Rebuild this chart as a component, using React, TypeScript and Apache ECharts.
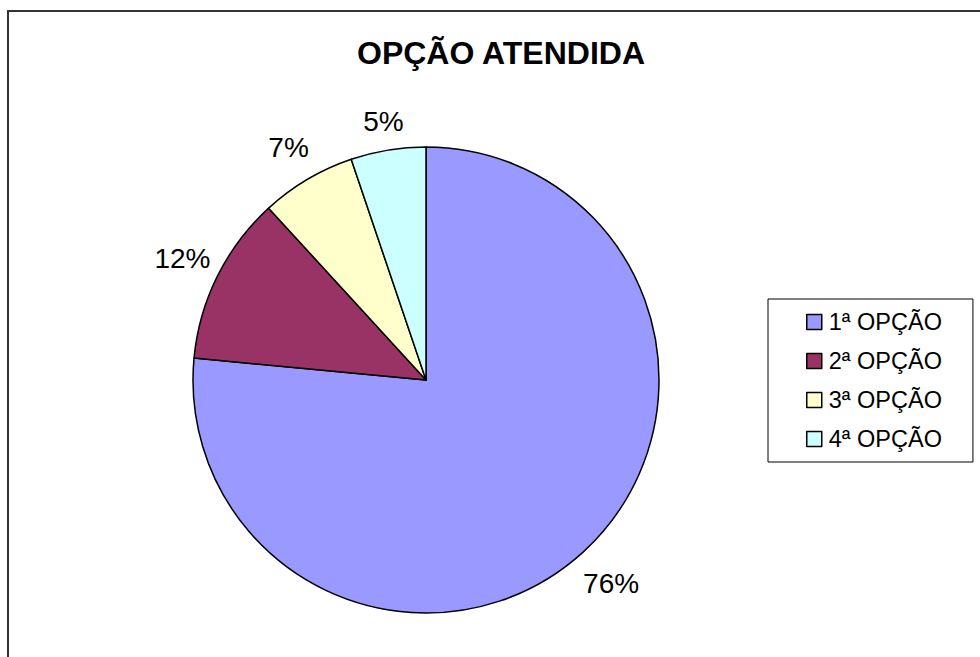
import React, { useEffect, useRef } from "react";
import * as echarts from "echarts";

const titleText = "OPÇÃO ATENDIDA";
const categories = ["1ª OPÇÃO", "2ª OPÇÃO", "3ª OPÇÃO", "4ª OPÇÃO"];
const values = [76.5, 11.7, 6.6, 5.2];
const colors = ["#9999FF", "#993366", "#FFFFCC", "#CCFFFF"];

const FONT = "'Liberation Sans', Arial, sans-serif";
const labelOffsets = [42, 39, 37, 29];

export default function App() {
  const ref = useRef<HTMLDivElement>(null);
  useEffect(() => {
    if (!ref.current) return;
    const chart = echarts.init(ref.current, undefined, { renderer: "svg" });
    chart.setOption({
      animation: false,
      backgroundColor: "#ffffff",
      title: {
        text: titleText,
        left: 501,
        top: 37,
        textAlign: "center",
        padding: 0,
        textStyle: { fontFamily: FONT, fontSize: 32, fontWeight: "bold", color: "#000" },
      },
      graphic: [
        {
          type: "rect",
          shape: { x: 8, y: 11, width: 1000, height: 700 },
          style: { fill: "none", stroke: "#333", lineWidth: 2 },
          silent: true,
          z: 100,
        },
      ],
      legend: {
        orient: "vertical",
        left: 768,
        top: 299,
        padding: [11, 31, 11, 38],
        itemWidth: 15,
        itemHeight: 15,
        itemGap: 15,
        icon: "rect",
        borderColor: "#000",
        borderWidth: 1,
        selectedMode: false,
        data: categories,
        itemStyle: { borderColor: "#000", borderWidth: 1.5 },
        textStyle: { fontFamily: FONT, fontSize: 23.5, lineHeight: 23, color: "#000", padding: [0, 0, 0, 2] },
      },
      series: [
        {
          type: "pie",
          center: [426, 380],
          radius: 233,
          startAngle: 90,
          clockwise: true,
          avoidLabelOverlap: false,
          percentPrecision: 0,
          itemStyle: { borderColor: "#000", borderWidth: 1.5 },
          label: {
            show: true,
            position: "outside",
            formatter: "{d}%",
            fontFamily: FONT,
            fontSize: 28,
            color: "#000",
            distanceToLabelLine: 0,
          },
          labelLine: { show: false, length: 38, length2: 0 },
          labelLayout: () => ({ align: "center" }),
          emphasis: { disabled: true },
          data: categories.map((name, i) => ({
            name,
            value: values[i],
            itemStyle: { color: colors[i] },
            labelLine: { show: false, length: labelOffsets[i], length2: 0 },
          })),
        },
      ],
    });
    return () => chart.dispose();
  }, []);
  return (
    <div
      ref={ref}
      style={{ position: "fixed", left: 0, top: 0, width: 980, height: 657, background: "#fff" }}
    />
  );
}
